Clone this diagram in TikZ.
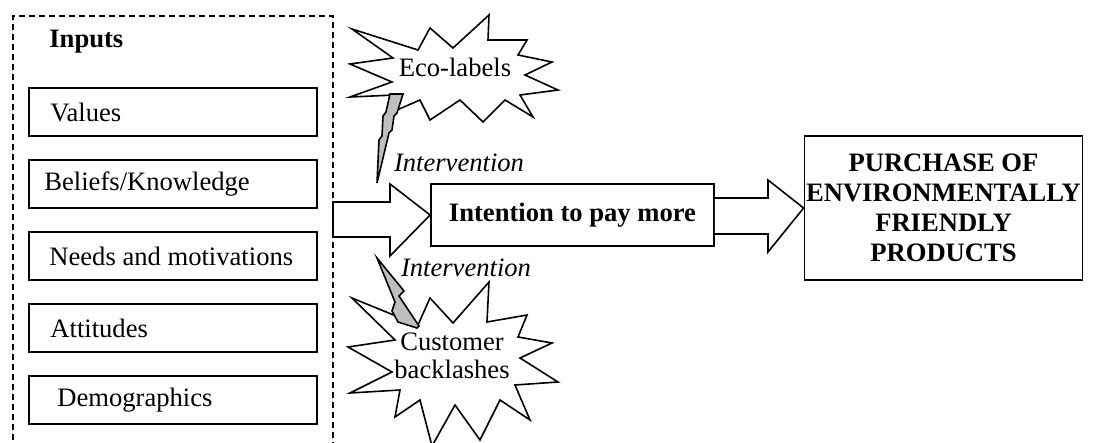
\documentclass[tikz,border=0pt]{standalone}
\usepackage{fontspec}
\setmainfont{Liberation Serif}
\usetikzlibrary{calc}
\begin{document}
\begin{tikzpicture}[x=0.5pt,y=-0.5pt,
  every node/.style={font=\fontsize{13.3}{15}\selectfont},
  inbox/.style={draw,line width=0.9pt,minimum width=144pt,minimum height=24pt,inner sep=0pt},
  lbl/.style={anchor=west,inner sep=0pt},
  bigbox/.style={draw,line width=0.9pt,inner sep=0pt,align=center,font=\fontsize{13.3}{15}\selectfont\bfseries},
  blockarrow/.style={draw,line width=0.8pt,fill=white,line join=miter},
  burst/.style={draw,line width=0.8pt,fill=white,line join=miter},
  bolt/.style={draw,line width=0.8pt,fill=black!25,line join=miter},
  ital/.style={font=\fontsize{13.3}{15}\selectfont\itshape,inner sep=0pt}]
\useasboundingbox (0,0) rectangle (1102,443);
% dashed frame (bottom edge beyond the picture)
\coordinate (fbl) at (13,450);
\coordinate (ftl) at (13,16);
\coordinate (ftr) at (333,16);
\coordinate (fbr) at (333,450);
\draw[dashed,dash pattern=on 3pt off 2pt,line width=0.7pt] (fbl) -- (ftl) -- (ftr) -- (fbr);
\node[lbl,font=\fontsize{13.3}{15}\selectfont\bfseries] (inputs) at (49,42) {Inputs};
% input boxes
\node[inbox] (b1) at (173,112) {};
\node[inbox] (b2) at (173,184) {};
\node[inbox] (b3) at (173,256) {};
\node[inbox] (b4) at (173,328) {};
\node[inbox] (b5) at (173,400) {};
\node[lbl] (t1) at (50,112) {Values};
\node[lbl] (t2) at (44,184) {Beliefs/Knowledge};
\node[lbl] (t3) at (49,256) {Needs and motivations};
\node[lbl] (t4) at (50,328) {Attitudes};
\node[lbl] (t5) at (57,400) {Demographics};
% intention and purchase
\node[bigbox,minimum width=141.5pt,minimum height=31pt] (int) at (572.5,215) {Intention to pay more};
\node[bigbox,minimum width=139pt,minimum height=72pt] (pur) at (943.5,208) {PURCHASE OF\\ENVIRONMENTALLY\\FRIENDLY\\PRODUCTS};
% block arrows
\draw[blockarrow] (333,202) -- (390,202) -- (390,184) -- (int.west) -- (390,256) -- (390,237) -- (333,237) -- cycle;
\draw[blockarrow] (int.east |- 0,198) -- (768,198) -- (768,180) -- (pur.west) -- (768,252) -- (768,234) -- (int.east |- 0,234);
% eco-labels burst
\draw[burst] (352,29) -- (418,50) -- (430,28) -- (453,48) -- (489,15) -- (488,40) -- (527,40) -- (518,55)
  -- (552,62) -- (525,75) -- (558,90) -- (520,95) -- (533,117) -- (505,100) -- (483,122) -- (460,100)
  -- (430,120) -- (420,100) -- (390,113) -- (395,95) -- (350,97) -- (392,82) -- (350,64) -- (393,58) -- cycle;
\node (eco) at (455,67) {Eco-labels};
% customer backlashes burst
\draw[burst] (352,298) -- (418,325) -- (430,298) -- (453,323) -- (489,282) -- (487,322) -- (527,315) -- (518,337)
  -- (552,343) -- (520,358) -- (558,382) -- (515,385) -- (530,420) -- (500,400) -- (480,440) -- (455,405)
  -- (432,446) -- (420,400) -- (395,417) -- (400,390) -- (350,393) -- (392,372) -- (348,347) -- (395,340) -- cycle;
\node[align=center,font=\fontsize{13.3}{14}\selectfont] (cust) at (452,356) {Customer\\backlashes};
% bolts
\draw[bolt] (390,94) -- (403,94) -- (397,113) -- (394,116) -- (392,130) -- (389,133) -- (377,183) -- (379,140)
  -- (382,136) -- (383,116) -- (386,112) -- cycle;
\draw[bolt] (377,258) -- (404,291) -- (399,296) -- (419,326) -- (417,328) -- (398,322) -- (392,311) -- (395,302) -- cycle;
\node[ital] (iv1) at (459,163) {Intervention};
\node[ital] (iv2) at (466,268) {Intervention};
\end{tikzpicture}
\end{document}
